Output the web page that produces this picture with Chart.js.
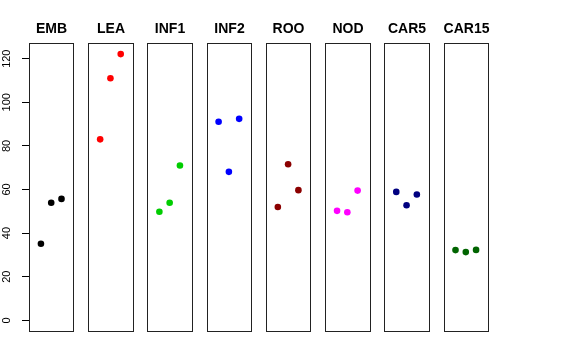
<!DOCTYPE html>
<html>
<head>
<meta charset="utf-8">
<script src="https://cdn.jsdelivr.net/npm/chart.js@4/dist/chart.umd.min.js"></script>
<style>
  html, body { margin: 0; padding: 0; background: #fff; }
  canvas { display: block; }
</style>
</head>
<body>
<canvas id="chart" width="576" height="360"></canvas>
<script>
const panels = ['EMB', 'LEA', 'INF1', 'INF2', 'ROO', 'NOD', 'CAR5', 'CAR15'];
const colors = ['#000000', '#ff0000', '#00cd00', '#0000ff', '#8b0000', '#ff00ff', '#000080', '#006400'];

const emb = [35.1, 53.9, 55.7];
const lea = [83.0, 111.0, 122.1];
const inf1 = [49.8, 53.9, 71.0];
const inf2 = [91.1, 68.1, 92.4];
const roo = [52.0, 71.6, 59.7];
const nod = [50.2, 49.6, 59.5];
const car5 = [58.9, 52.8, 57.7];
const car15 = [32.2, 31.3, 32.3];

const series = [emb, lea, inf1, inf2, roo, nod, car5, car15];
const yTicks = [0, 20, 40, 60, 80, 100, 120];

// each panel spans [-0.16, 4.16] in its own units, panels placed PITCH apart
const PAD = 0.16;
const WIDTH = 4;
const PITCH = 5.76;

const datasets = series.map((vals, i) => ({
    label: panels[i],
    data: vals.map((v, j) => ({ x: i * PITCH + j + 1, y: v })),
    backgroundColor: colors[i],
    borderColor: colors[i],
    pointRadius: 3.3,
    pointHoverRadius: 3.3,
    borderWidth: 0
}));

const panelPlugin = {
    id: 'panels',
    afterDraw(chart) {
        const { ctx, chartArea, scales } = chart;
        const xs = scales.x;
        const ys = scales.y;
        ctx.save();
        ctx.strokeStyle = '#222';
        ctx.lineWidth = 1;
        panels.forEach((name, i) => {
            const x0 = Math.round(xs.getPixelForValue(i * PITCH - PAD)) + 0.5;
            const x1 = Math.round(xs.getPixelForValue(i * PITCH + WIDTH + PAD)) + 0.5;
            const top = Math.round(chartArea.top) + 0.5;
            const bottom = Math.round(chartArea.bottom) + 0.5;
            ctx.strokeRect(x0, top, x1 - x0, bottom - top);

            ctx.fillStyle = '#000';
            ctx.font = 'bold 14px "Liberation Sans", Arial, sans-serif';
            ctx.textAlign = 'center';
            ctx.textBaseline = 'middle';
            ctx.fillText(name, (x0 + x1) / 2, 29);
        });

        // rotated y tick labels, like R's default axis
        ctx.font = '11px "Liberation Sans", Arial, sans-serif';
        ctx.fillStyle = '#000';
        ys.ticks.forEach(t => {
            const y = ys.getPixelForValue(t.value);
            ctx.save();
            ctx.translate(6.5, y);
            ctx.rotate(-Math.PI / 2);
            ctx.textAlign = 'center';
            ctx.textBaseline = 'middle';
            ctx.fillText(String(t.value), 0, 0);
            ctx.restore();
        });
        ctx.restore();
    }
};

new Chart(document.getElementById('chart'), {
    type: 'scatter',
    data: { datasets },
    options: {
        responsive: false,
        animation: false,
        events: [],
        layout: { padding: { left: 0, right: 88, top: 43, bottom: 29 } },
        plugins: { legend: { display: false }, tooltip: { enabled: false } },
        scales: {
            x: {
                type: 'linear',
                display: false,
                min: -PAD,
                max: (panels.length - 1) * PITCH + WIDTH + PAD
            },
            y: {
                type: 'linear',
                min: -4.9,
                max: 127.2,
                afterBuildTicks: scale => { scale.ticks = yTicks.map(v => ({ value: v })); },
                afterFit: scale => { scale.width = 29; },
                ticks: { display: false },
                border: { display: false },
                grid: {
                    drawOnChartArea: false,
                    drawTicks: true,
                    tickLength: 7,
                    color: '#000'
                }
            }
        }
    },
    plugins: [panelPlugin]
});
</script>
</body>
</html>
